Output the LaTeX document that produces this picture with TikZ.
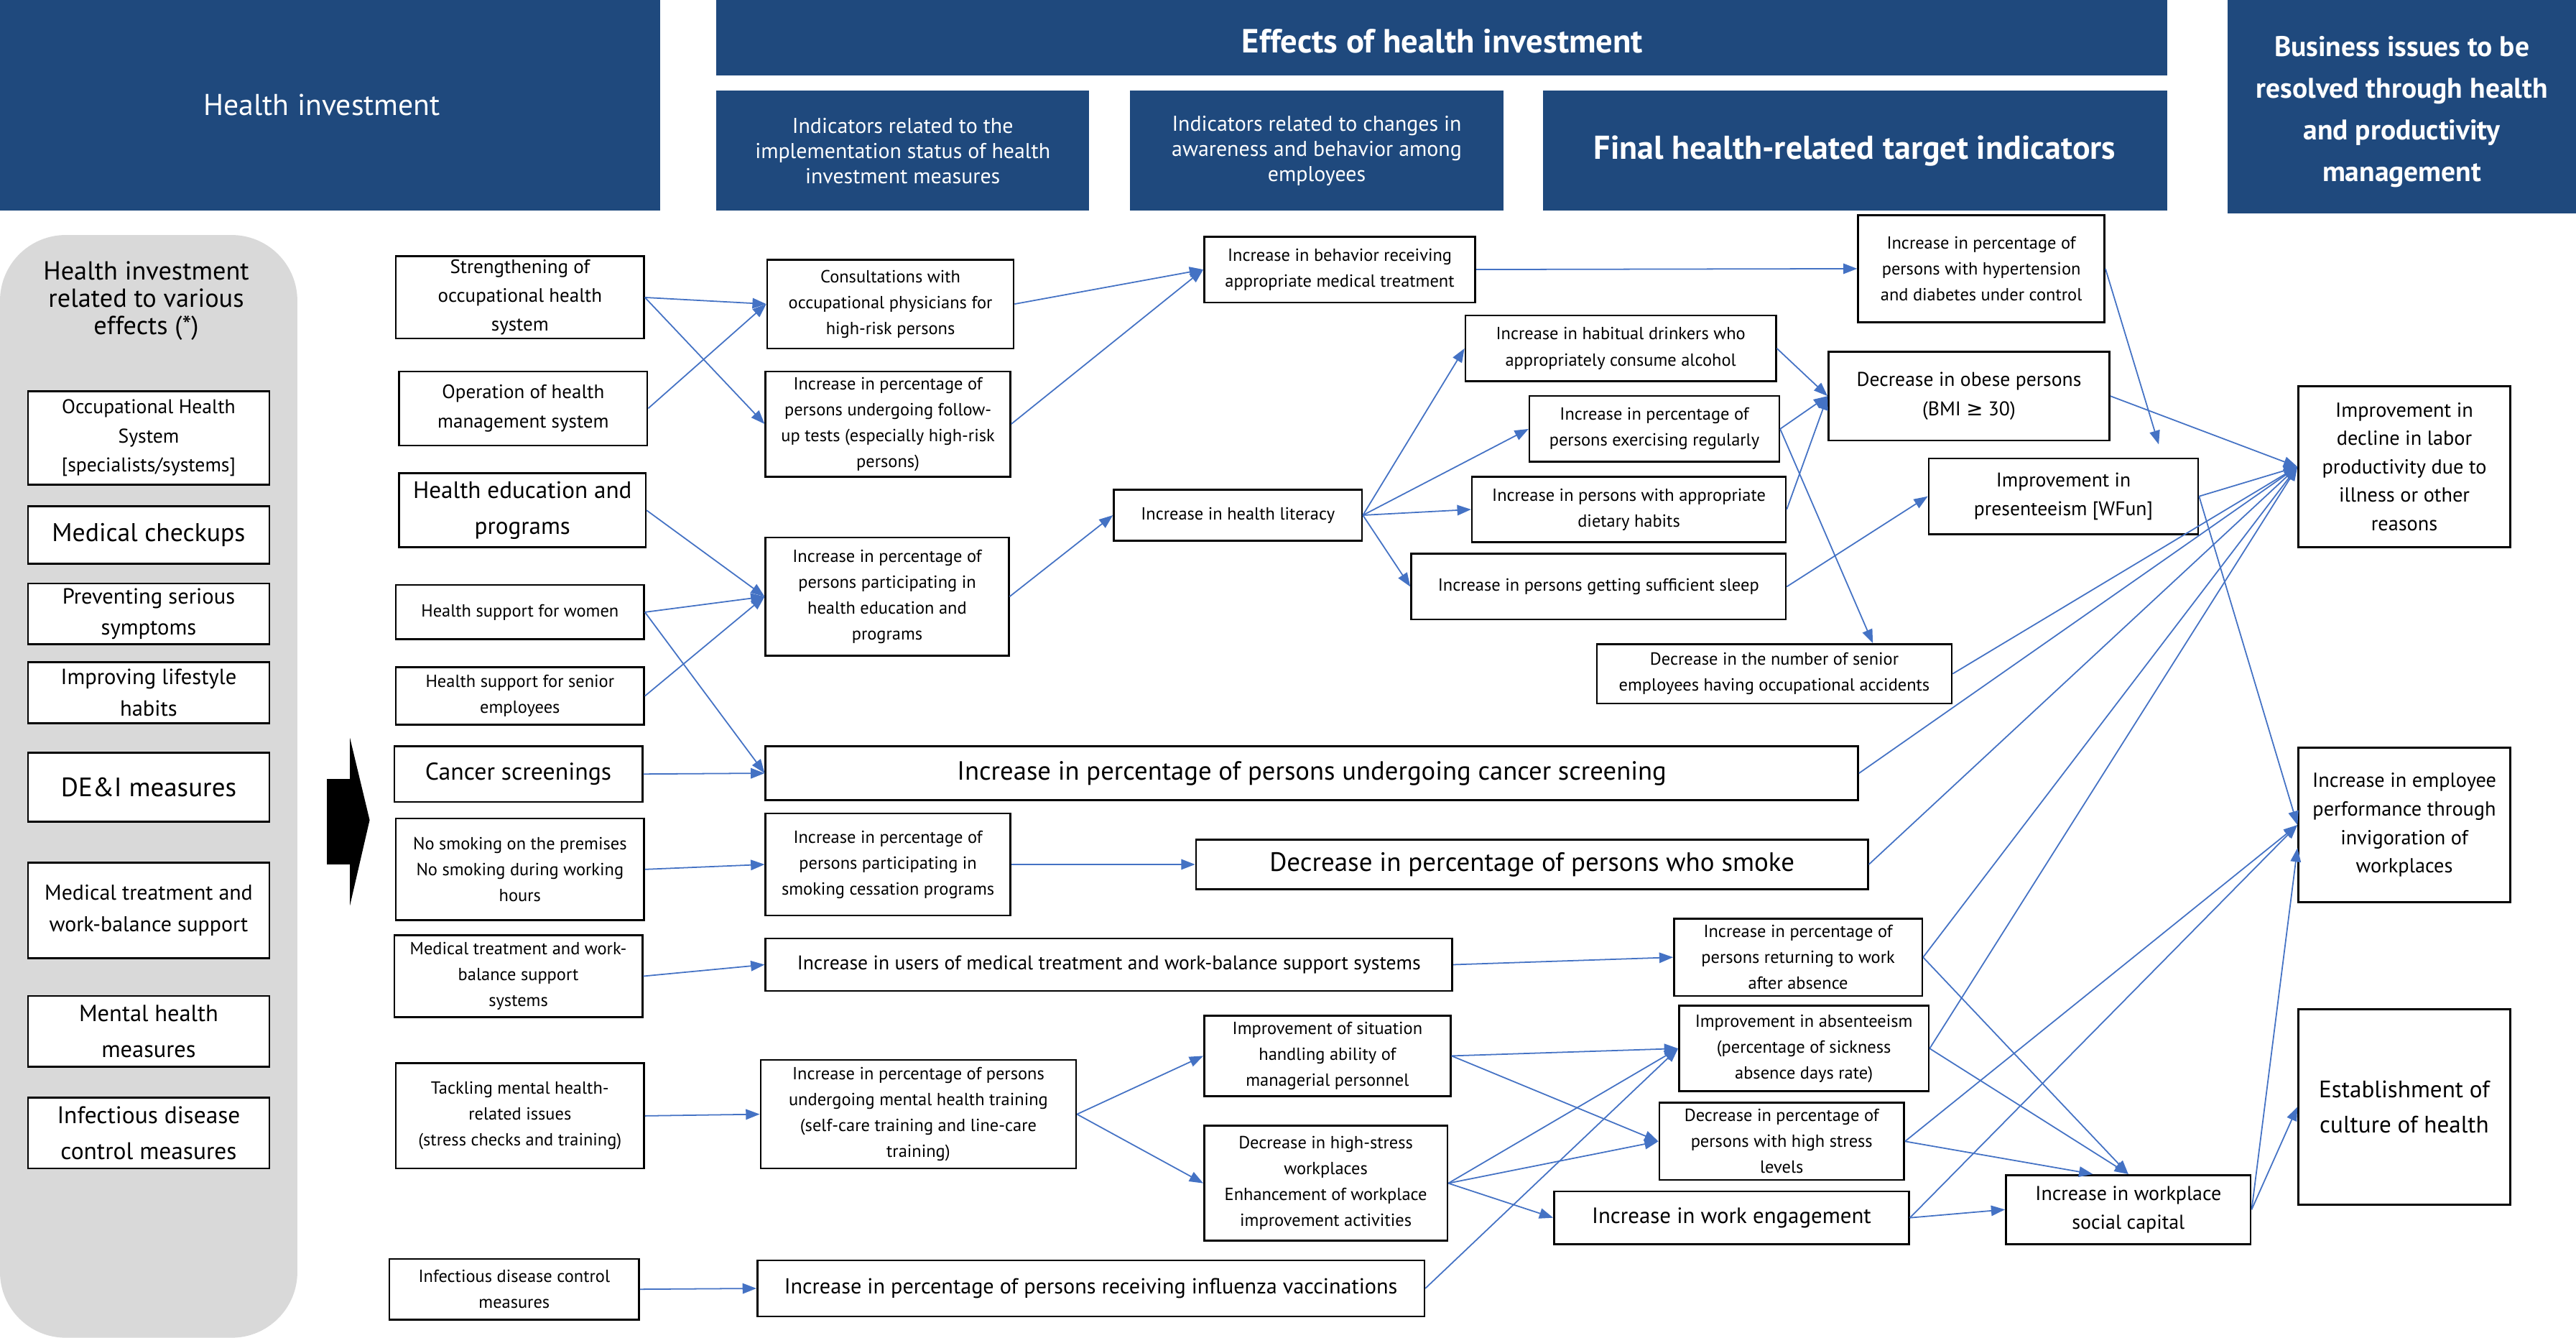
\documentclass[tikz,border=0pt]{standalone}
\usepackage{fontspec}
\setmainfont{PT Sans}
\newfontfamily\symfont{DejaVu Sans}
\usetikzlibrary{arrows.meta,calc}
\definecolor{hdr}{RGB}{31,73,125}
\definecolor{arr}{RGB}{68,114,196}
\definecolor{panelgray}{RGB}{217,217,217}
\newcommand\fz[2]{\fontsize{#1}{#2}\selectfont}
\tikzset{
  bx/.style={draw=black, line width=0.8pt, fill=white, align=center, inner sep=0pt, text=black},
  hd/.style={fill=hdr, draw=none, align=center, inner sep=0pt, text=white},
  hdtext/.style={align=center, inner sep=0pt, text=white},
  ar/.style={draw=arr, line width=0.55pt, -{Triangle[length=6pt,width=4.5pt]}},
}
\newcommand\mybox[7]{\node[bx,font={#6},minimum width={(#4-#2)*0.25mm},minimum height={(#5-#3)*0.25mm}] (#1) at ({(#2+#4)/2},{(#3+#5)/2}) {#7};}
% header: blue block plus its text placed at a given centre
\newcommand\myhdr[9]{\node[hd,minimum width={(#4-#2)*0.25mm},minimum height={(#5-#3)*0.25mm}] (#1) at ({(#2+#4)/2},{(#3+#5)/2}) {};
  \node[hdtext,font={#6}] (#1t) at (#7,#8) {#9};}
\newcommand\sfz{\fz{7.6}{11.2}}
\begin{document}
\begin{tikzpicture}[x=0.25mm,y=-0.25mm]
\useasboundingbox (0,0) rectangle (1568,814);
% headers
\myhdr{hInv}{0}{0}{402}{128}{\fz{13}{15}}{196}{64}{Health investment}
\myhdr{hEff}{436}{0}{1319}{46}{\bfseries\fz{14.5}{16}}{878}{25}{Effects of health investment}
\myhdr{hImp}{436}{55}{663}{128}{\fz{9.3}{10.9}}{549.5}{92}{Indicators related to the\\implementation status of health\\investment measures}
\myhdr{hAw}{688}{55}{915}{128}{\fz{9.3}{10.9}}{801.5}{92}{Indicators related to changes in\\awareness and behavior among\\employees}
\myhdr{hFin}{939}{55}{1319}{128}{\bfseries\fz{14.3}{16}}{1129}{92}{Final health-related target indicators}
\myhdr{hBus}{1356}{0}{1568}{130}{\bfseries\fz{12.3}{18}}{1462}{68}{Business issues to be\\resolved through health\\and productivity\\management}
% left panel
\node[fill=panelgray, rounded corners=10mm, inner sep=0pt, minimum width={181*0.25mm}, minimum height={671*0.25mm}] (panel) at (90.5,478.5) {};
\node[align=center, font=\fz{11.3}{11.8}, inner sep=0pt] (ptitle) at (89,183) {Health investment\\related to various\\effects (*)};
\mybox{pOcc}{17}{238}{164}{295}{\fz{8.6}{12.5}}{Occupational Health\\System\\{[specialists/systems]}}
\mybox{pChk}{17}{308}{164}{343}{\fz{11.1}{13}}{Medical checkups}
\mybox{pPrev}{17}{355}{164}{392}{\fz{9.5}{13.5}}{Preventing serious\\symptoms}
\mybox{pLife}{17}{403}{164}{440}{\fz{9.5}{13.5}}{Improving lifestyle\\habits}
\mybox{pDei}{17}{458}{164}{500}{\fz{11.5}{14}}{DE\&I measures}
\mybox{pMed}{17}{525}{164}{583}{\fz{9.3}{13.7}}{Medical treatment and\\work-balance support}
\mybox{pMent}{17}{606}{164}{649}{\fz{10.1}{15.6}}{Mental health\\measures}
\mybox{pInf}{17}{668}{164}{711}{\fz{10.4}{15.4}}{Infectious disease\\control measures}
% big black arrow
\fill[black] (199,474) -- (213,474) -- (213,449) -- (225,499) -- (213,551) -- (213,526) -- (199,526) -- cycle;
% column 2
\mybox{cStr}{241}{156}{392}{206}{\fz{8.4}{12.5}}{Strengthening of\\occupational health\\system}
\mybox{cOp}{243}{226}{394}{271}{\fz{8.4}{12.5}}{Operation of health\\management system}
\mybox{cEdu}{243}{288}{393}{333}{\fz{10.3}{15.6}}{Health education and\\programs}
\mybox{cWom}{241}{356}{392}{389}{\sfz}{Health support for women}
\mybox{cSen}{241}{406}{392}{441}{\sfz}{Health support for senior\\employees}
\mybox{cCan}{240}{454}{391}{488}{\fz{10.5}{12}}{Cancer screenings}
\mybox{cNos}{241}{498}{392}{560}{\sfz}{No smoking on the premises\\No smoking during working\\hours}
\mybox{cMsys}{240}{569}{391}{619}{\sfz}{Medical treatment and work-\\balance support\\systems}
\mybox{cTack}{241}{647}{392}{711}{\sfz}{Tackling mental health-\\related issues\\(stress checks and training)}
\mybox{cInf}{237}{766}{389}{803}{\sfz}{Infectious disease control\\measures}
% column 3
\mybox{dCons}{467}{158}{617}{212}{\sfz}{Consultations with\\occupational physicians for\\high-risk persons}
\mybox{dFol}{466}{226}{615}{290}{\sfz}{Increase in percentage of\\persons undergoing follow-\\up tests (especially high-risk\\persons)}
\mybox{dPar}{466}{327}{614}{399}{\sfz}{Increase in percentage of\\persons participating in\\health education and\\programs}
\mybox{dCanc}{466}{454}{1131}{487}{\fz{11.4}{13}}{Increase in percentage of persons undergoing cancer screening}
\mybox{dCes}{466}{495}{615}{557}{\sfz}{Increase in percentage of\\persons participating in\\smoking cessation programs}
\mybox{dUse}{466}{571}{884}{603}{\fz{8.6}{10}}{Increase in users of medical treatment and work-balance support systems}
\mybox{dMtr}{463}{645}{655}{711}{\sfz}{Increase in percentage of persons\\undergoing mental health training\\(self-care training and line-care\\training)}
\mybox{dFlu}{461}{767}{867}{801}{\fz{9.4}{11}}{Increase in percentage of persons receiving influenza vaccinations}
% column 4
\mybox{eBeh}{733}{144}{898}{184}{\sfz}{Increase in behavior receiving\\appropriate medical treatment}
\mybox{eLit}{678}{298}{829}{329}{\sfz}{Increase in health literacy}
\mybox{eSmk}{728}{511}{1137}{541}{\fz{11.5}{13}}{Decrease in percentage of persons who smoke}
\mybox{eSit}{733}{618}{883}{667}{\sfz}{Improvement of situation\\handling ability of\\managerial personnel}
\mybox{eHsw}{733}{685}{881}{755}{\sfz}{Decrease in high-stress\\workplaces\\Enhancement of workplace\\improvement activities}
% column 5
\mybox{fDri}{892}{192}{1081}{232}{\sfz}{Increase in habitual drinkers who\\appropriately consume alcohol}
\mybox{fExe}{931}{241}{1083}{281}{\sfz}{Increase in percentage of\\persons exercising regularly}
\mybox{fDie}{896}{290}{1087}{330}{\sfz}{Increase in persons with appropriate\\dietary habits}
\mybox{fSle}{859}{337}{1087}{377}{\sfz}{Increase in persons getting sufficient sleep}
\mybox{fAcc}{972}{392}{1188}{428}{\sfz}{Decrease in the number of senior\\employees having occupational accidents}
\mybox{fHyp}{1131}{131}{1281}{196}{\sfz}{Increase in percentage of\\persons with hypertension\\and diabetes under control}
\mybox{fObe}{1113}{214}{1284}{268}{\fz{8.6}{12.7}}{Decrease in obese persons\\(BMI {\symfont\char"2265} 30)}
\mybox{fPre}{1174}{279}{1338}{325}{\fz{8.6}{12.4}}{Improvement in\\presenteeism [WFun]}
\mybox{fRet}{1019}{559}{1170}{606}{\sfz}{Increase in percentage of\\persons returning to work\\after absence}
\mybox{fAbs}{1022}{612}{1174}{664}{\sfz}{Improvement in absenteeism\\(percentage of sickness\\absence days rate)}
\mybox{fHst}{1010}{671}{1159}{718}{\sfz}{Decrease in percentage of\\persons with high stress\\levels}
\mybox{fEng}{946}{725}{1162}{757}{\fz{9.6}{11}}{Increase in work engagement}
\mybox{fSoc}{1221}{715}{1370}{757}{\fz{8.7}{12.3}}{Increase in workplace\\social capital}
% right column
\mybox{gLab}{1399}{235}{1528}{333}{\fz{8.8}{12.3}}{Improvement in\\decline in labor\\productivity due to\\illness or other\\reasons}
\mybox{gPer}{1399}{455}{1528}{549}{\fz{8.8}{12.3}}{Increase in employee\\performance through\\invigoration of\\workplaces}
\mybox{gCul}{1399}{614}{1528}{733}{\fz{10.3}{15.4}}{Establishment of\\culture of health}
% connectors
\draw[ar] (cStr.east) -- (dCons.west);
\draw[ar] (cStr.east) -- (dFol.west);
\draw[ar] (cOp.east) -- (dCons.west);
\draw[ar] (dCons.east) -- (eBeh.west);
\draw[ar] (dFol.east) -- (eBeh.west);
\draw[ar] (eBeh.east) -- (fHyp.west);
\draw[ar] (cEdu.east) -- (dPar.west);
\draw[ar] (cWom.east) -- (dPar.west);
\draw[ar] (cSen.east) -- (dPar.west);
\draw[ar] (cWom.east) -- (dCanc.west);
\draw[ar] (cCan.east) -- (dCanc.west);
\draw[ar] (cNos.east) -- (dCes.west);
\draw[ar] (dCes.east) -- (eSmk.west);
\draw[ar] (cMsys.east) -- (dUse.west);
\draw[ar] (dUse.east) -- (fRet.west);
\draw[ar] (cTack.east) -- (dMtr.west);
\draw[ar] (cInf.east) -- (dFlu.west);
\draw[ar] (dPar.east) -- (eLit.west);
\draw[ar] (eLit.east) -- (fDri.west);
\draw[ar] (eLit.east) -- (fExe.west);
\draw[ar] (eLit.east) -- (fDie.west);
\draw[ar] (eLit.east) -- (fSle.west);
\draw[ar] (fDri.east) -- (fObe.west);
\draw[ar] (fExe.east) -- (fObe.west);
\draw[ar] (fDie.east) -- (fObe.west);
\draw[ar] (fExe.east) -- ([xshift=15mm]fAcc.north);
\draw[ar] (fSle.east) -- (fPre.west);
\draw[ar] (fHyp.east) -- ([xshift=14.5mm,yshift=2mm]fPre.north);
\draw[ar] (fObe.east) -- (gLab.west);
\draw[ar] (fPre.east) -- (gLab.west);
\draw[ar] (fPre.east) -- (gPer.west);
\draw[ar] (fAcc.east) -- (gLab.west);
\draw[ar] (dCanc.east) -- (gLab.west);
\draw[ar] (eSmk.east) -- (gLab.west);
\draw[ar] (fRet.east) -- (gLab.west);
\draw[ar] (fAbs.east) -- (gLab.west);
\draw[ar] (fRet.east) -- (fSoc.north);
\draw[ar] (fAbs.east) -- (fSoc.north);
\draw[ar] (fHst.east) -- (gPer.west);
\draw[ar] (fHst.east) -- ([xshift=-5.4mm]fSoc.north);
\draw[ar] (fEng.east) -- (fSoc.west);
\draw[ar] (fEng.east) -- (gPer.west);
\draw[ar] (fSoc.east) -- ([yshift=-3.5mm]gPer.west);
\draw[ar] (fSoc.east) -- (gCul.west);
\draw[ar] (dMtr.east) -- (eSit.west);
\draw[ar] (dMtr.east) -- (eHsw.west);
\draw[ar] (eSit.east) -- (fAbs.west);
\draw[ar] (eSit.east) -- (fHst.west);
\draw[ar] (eHsw.east) -- (fAbs.west);
\draw[ar] (eHsw.east) -- (fHst.west);
\draw[ar] (eHsw.east) -- (fEng.west);
\draw[ar] (dFlu.east) -- (fAbs.west);
\end{tikzpicture}
\end{document}
